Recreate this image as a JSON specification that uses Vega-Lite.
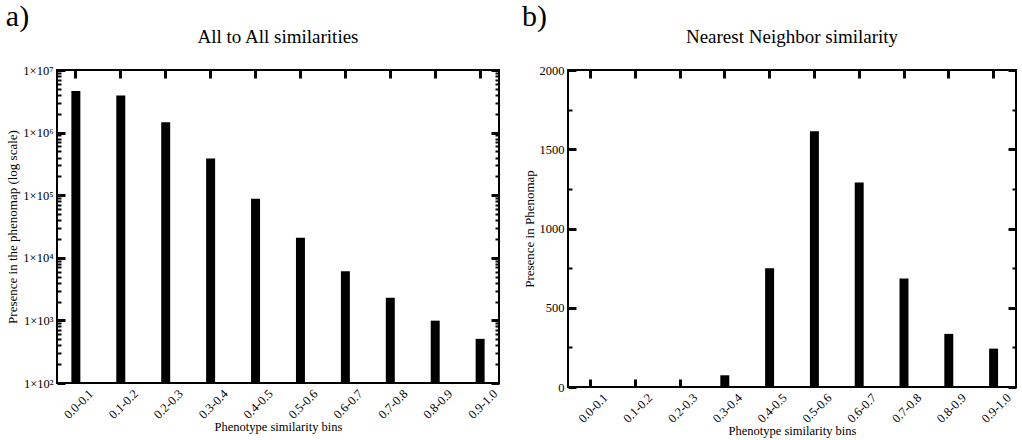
{
  "$schema": "https://vega.github.io/schema/vega-lite/v6.json",
  "padding": {"left": 5, "top": 2, "right": 3, "bottom": 2},
  "background": "white",
  "config": {
    "font": "Liberation Serif",
    "view": {"stroke": "black", "strokeWidth": 2},
    "axis": {"domain": false, "ticks": true, "tickOpacity": 1, "tickWidth": 3, "labelColor": "black", "titleColor": "black", "grid": false, "labelFont": "Liberation Serif", "titleFont": "Liberation Serif", "titleFontWeight": "normal", "zindex": 1},
    "title": {"font": "Liberation Serif", "fontWeight": "normal", "color": "black"}
  },
  "datasets": {
    "all": [
      {"bin": "0.0-0.1", "count": 4600000},
      {"bin": "0.1-0.2", "count": 3900000},
      {"bin": "0.2-0.3", "count": 1470000},
      {"bin": "0.3-0.4", "count": 385000},
      {"bin": "0.4-0.5", "count": 87500},
      {"bin": "0.5-0.6", "count": 21000},
      {"bin": "0.6-0.7", "count": 6100},
      {"bin": "0.7-0.8", "count": 2300},
      {"bin": "0.8-0.9", "count": 990},
      {"bin": "0.9-1.0", "count": 507}
    ],
    "nn": [
      {"bin": "0.0-0.1", "count": 0},
      {"bin": "0.1-0.2", "count": 0},
      {"bin": "0.2-0.3", "count": 2},
      {"bin": "0.3-0.4", "count": 74},
      {"bin": "0.4-0.5", "count": 749},
      {"bin": "0.5-0.6", "count": 1614},
      {"bin": "0.6-0.7", "count": 1291},
      {"bin": "0.7-0.8", "count": 684},
      {"bin": "0.8-0.9", "count": 335},
      {"bin": "0.9-1.0", "count": 242}
    ]
  },
  "hconcat": [
    {
      "title": {"text": "a)", "anchor": "start", "frame": "bounds", "fontSize": 30, "offset": -5},
      "vconcat": [
        {
          "title": {"text": "All to All similarities", "anchor": "middle", "frame": "group", "fontSize": 19, "offset": 17},
          "width": 442,
          "height": 313,
          "data": {"name": "all"},
          "layer": [
            {
              "mark": {"type": "bar", "color": "black"},
              "encoding": {
                "x": {"field": "bin", "type": "nominal", "sort": null,
                  "scale": {"paddingInner": 0.8, "paddingOuter": 0.32},
                  "axis": {"orient": "bottom", "title": "Phenotype similarity bins", "titleFontSize": 12.5, "titlePadding": 0, "labelAngle": -45, "labelAlign": "right", "labelBaseline": "top", "labelFontSize": 12.5, "offset": -8, "tickSize": 8, "tickColor": "#050505", "tickOpacity": 1, "labelPadding": 4, "labelOffset": 11}},
                "y": {"field": "count", "type": "quantitative",
                  "scale": {"type": "log", "domain": [100, 10000000]},
                  "axis": {"orient": "left", "title": "Presence in the phenomap (log scale)", "titleFontSize": 13, "titlePadding": 3, "labelFontSize": 12.5,
                    "values": [100,1000,10000,100000,1000000,10000000],
                    "labelExpr": "'1×10' + ['²','³','⁴','⁵','⁶','⁷'][round(log(datum.value)/LN10)-2]",
                    "offset": -8, "tickSize": 8, "tickColor": "#050505", "tickOpacity": 1, "labelPadding": 4}},
                "y2": {"datum": 100}
              }
            },
            {
              "mark": {"type": "bar", "color": "black", "opacity": 0},
              "encoding": {
                "x": {"field": "bin", "type": "nominal", "sort": null,
                  "axis": {"orient": "top", "title": null, "labels": false, "offset": -8, "tickSize": 8, "tickColor": "#050505", "tickOpacity": 1}},
                "y": {"field": "count", "type": "quantitative",
                  "axis": {"orient": "right", "title": null, "labels": false, "values": [100,1000,10000,100000,1000000,10000000], "offset": -8, "tickSize": 8, "tickColor": "#050505", "tickOpacity": 1}},
                "y2": {"datum": 100}
              }
            },
            {
              "mark": {"type": "bar", "color": "black", "opacity": 0},
              "encoding": {
                "x": {"field": "bin", "type": "nominal", "sort": null, "axis": null},
                "y": {"field": "count", "type": "quantitative",
                  "axis": {"orient": "left", "title": null, "labels": false,
                    "values": [200,300,400,500,600,700,800,900,2000,3000,4000,5000,6000,7000,8000,9000,20000,30000,40000,50000,60000,70000,80000,90000,200000,300000,400000,500000,600000,700000,800000,900000,2000000,3000000,4000000,5000000,6000000,7000000,8000000,9000000],
                    "offset": -4, "tickSize": 4, "tickWidth": 2, "tickColor": "#050505", "tickOpacity": 1}},
                "y2": {"datum": 100}
              }
            },
            {
              "mark": {"type": "bar", "color": "black", "opacity": 0},
              "encoding": {
                "x": {"field": "bin", "type": "nominal", "sort": null, "axis": null},
                "y": {"field": "count", "type": "quantitative",
                  "axis": {"orient": "right", "title": null, "labels": false,
                    "values": [200,300,400,500,600,700,800,900,2000,3000,4000,5000,6000,7000,8000,9000,20000,30000,40000,50000,60000,70000,80000,90000,200000,300000,400000,500000,600000,700000,800000,900000,2000000,3000000,4000000,5000000,6000000,7000000,8000000,9000000],
                    "offset": -4, "tickSize": 4, "tickWidth": 2, "tickColor": "#050505", "tickOpacity": 1}},
                "y2": {"datum": 100}
              }
            }
          ],
          "resolve": {"axis": {"x": "independent", "y": "independent"}}
        }
      ]
    },
    {
      "title": {"text": "b)", "anchor": "start", "frame": "bounds", "fontSize": 30, "offset": -5},
      "vconcat": [
        {
          "title": {"text": "Nearest Neighbor similarity", "anchor": "middle", "frame": "group", "fontSize": 19, "offset": 17},
          "width": 448,
          "height": 317,
          "data": {"name": "nn"},
          "layer": [
            {
              "mark": {"type": "bar", "color": "black"},
              "encoding": {
                "x": {"field": "bin", "type": "nominal", "sort": null,
                  "scale": {"paddingInner": 0.8, "paddingOuter": 0.4},
                  "axis": {"orient": "bottom", "title": "Phenotype similarity bins", "titleFontSize": 12.5, "titlePadding": 0, "labelAngle": -45, "labelAlign": "right", "labelBaseline": "top", "labelFontSize": 12.5, "offset": -8, "tickSize": 8, "tickColor": "#050505", "tickOpacity": 1, "labelPadding": 4, "labelOffset": 11}},
                "y": {"field": "count", "type": "quantitative",
                  "scale": {"domain": [0, 2000]},
                  "axis": {"orient": "left", "title": "Presence in Phenomap", "titleFontSize": 13, "titlePadding": 3, "labelFontSize": 12.5, "format": "d",
                    "values": [0,500,1000,1500,2000], "offset": -8, "tickSize": 8, "tickColor": "#050505", "tickOpacity": 1, "labelPadding": 4}}
              }
            },
            {
              "mark": {"type": "bar", "color": "black", "opacity": 0},
              "encoding": {
                "x": {"field": "bin", "type": "nominal", "sort": null,
                  "axis": {"orient": "top", "title": null, "labels": false, "offset": -8, "tickSize": 8, "tickColor": "#050505", "tickOpacity": 1}},
                "y": {"field": "count", "type": "quantitative",
                  "axis": {"orient": "right", "title": null, "labels": false, "values": [0,500,1000,1500,2000], "offset": -8, "tickSize": 8, "tickColor": "#050505", "tickOpacity": 1}}
              }
            },
            {
              "mark": {"type": "bar", "color": "black", "opacity": 0},
              "encoding": {
                "x": {"field": "bin", "type": "nominal", "sort": null, "axis": null},
                "y": {"field": "count", "type": "quantitative",
                  "axis": {"orient": "left", "title": null, "labels": false, "values": [250,750,1250,1750], "offset": -4, "tickSize": 4, "tickWidth": 2, "tickColor": "#050505", "tickOpacity": 1}}
              }
            },
            {
              "mark": {"type": "bar", "color": "black", "opacity": 0},
              "encoding": {
                "x": {"field": "bin", "type": "nominal", "sort": null, "axis": null},
                "y": {"field": "count", "type": "quantitative",
                  "axis": {"orient": "right", "title": null, "labels": false, "values": [250,750,1250,1750], "offset": -4, "tickSize": 4, "tickWidth": 2, "tickColor": "#050505", "tickOpacity": 1}}
              }
            }
          ],
          "resolve": {"axis": {"x": "independent", "y": "independent"}}
        }
      ]
    }
  ],
  "spacing": 20
}
